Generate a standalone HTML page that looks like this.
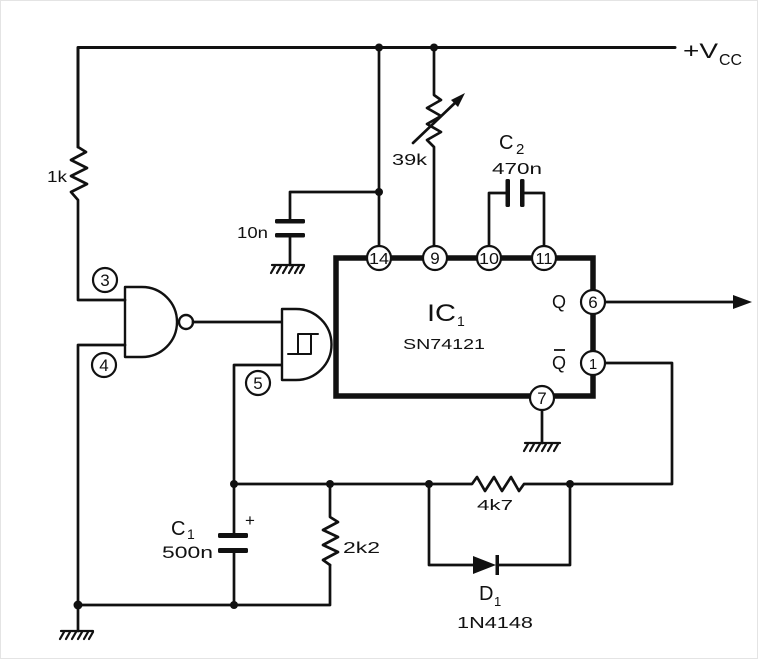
<!DOCTYPE html>
<html>
<head>
<meta charset="utf-8">
<style>
  html, body { margin: 0; padding: 0; background: #fff; }
  svg { display: block; }
  text { font-family: "Liberation Sans", "DejaVu Sans", sans-serif; fill: #111; }
</style>
</head>
<body>
<svg width="759" height="659" viewBox="0 0 759 659" xmlns="http://www.w3.org/2000/svg">
  <rect x="0" y="0" width="759" height="659" fill="#fff"/>
  <rect x="0.5" y="0.5" width="757" height="658" fill="none" stroke="#e4e4e4" stroke-width="1"/>

  <g fill="none" stroke="#111" stroke-width="2.7" stroke-linejoin="round" stroke-linecap="round">
    <!-- top Vcc rail -->
    <path d="M78,147 L78,47.5 L675,47.5" stroke-width="3"/>
    <!-- 1k resistor -->
    <path d="M78,147 L86,152 L71,160 L87,168 L71,176 L87,184 L71,192 L78,200 L78,300 L125,300"/>
    <!-- pin 14 vertical -->
    <path d="M379,47 L379,246"/>
    <!-- 10n capacitor -->
    <path d="M379,192 L290,192 L290,220"/>
    <path d="M290,236 L290,265"/>
    <!-- 39k variable resistor -->
    <path d="M434,47 L434,95 L441,100 L427,108 L441,116 L427,124 L441,132 L427,140 L434,147 L434,246"/>
    <path d="M413,143 L457,101"/>
    <!-- C2 -->
    <path d="M489,246 L489,193 L507,193"/>
    <path d="M523,193 L544,193 L544,246"/>
    <!-- Output -->
    <path d="M605,302 L736,302"/>
    <!-- Qbar feedback -->
    <path d="M605,363 L672,363 L672,484 L570,484"/>
    <!-- 4k7 resistor -->
    <path d="M570,484 L524,484 L519,491 L511,477 L502,491 L494,477 L485,491 L477,477 L472,484 L234,484"/>
    <!-- diode branch -->
    <path d="M429,484 L429,565 L473,565"/>
    <path d="M497,565 L570,565 L570,484"/>
    <!-- pin 7 ground -->
    <path d="M542,410 L542,443"/>
    <!-- NAND output to schmitt -->
    <path d="M193,322 L281,322"/>
    <!-- pin 4 / ground loop -->
    <path d="M125,345 L78,345 L78,605 L330,605 L330,565"/>
    <path d="M330,565 L323,560 L338,552 L323,545 L338,537 L323,530 L338,522 L330,517 L330,484"/>
    <path d="M78,605 L78,631"/>
    <!-- pin 5 / C1 -->
    <path d="M281,365 L234,365 L234,534"/>
    <path d="M234,551 L234,605"/>
    <!-- gates -->
    <path d="M125,287 L142,287 A35,35 0 0 1 142,357 L125,357 Z" stroke-width="2.4"/>
    <circle cx="186" cy="322" r="7" stroke-width="2.4"/>
    <path d="M282,309 L296,309 A35.5,35.5 0 0 1 296,380 L282,380 Z" stroke-width="2.4"/>
    <!-- hysteresis -->
    <path d="M288,354 L311,354 M298,354 L298,334 L318,334 M311,334 L311,354" stroke-width="2"/>
    <!-- IC box -->
    <path d="M336,396 L336,258 L593,258 L593,396 Z" stroke-width="5.5" stroke-linejoin="miter"/>
    <!-- grounds -->
    <path d="M272,265 L304,265 M275,266 L271,273 M281,266 L277,273 M287,266 L283,273 M293,266 L289,273 M299,266 L295,273 M304,266 L300,273" stroke-width="2.2"/>
    <path d="M525,443 L560,443 M528,444 L524,451 M534,444 L530,451 M540,444 L536,451 M546,444 L542,451 M552,444 L548,451 M558,444 L554,451" stroke-width="2.2"/>
    <path d="M61,631 L93,631 M64,632 L60,639 M70,632 L66,639 M76,632 L72,639 M82,632 L78,639 M88,632 L84,639 M93,632 L89,639" stroke-width="2.2"/>
  </g>

  <!-- capacitor plates -->
  <g fill="#111">
    <rect x="275" y="219" width="30" height="4.5" rx="1.5"/>
    <rect x="275" y="233" width="30" height="4.5" rx="1.5"/>
    <rect x="505.5" y="179" width="4.5" height="28" rx="1.5"/>
    <rect x="520" y="179" width="4.5" height="28" rx="1.5"/>
    <rect x="218" y="533" width="30" height="5" rx="1.5"/>
    <rect x="218" y="548" width="30" height="5" rx="1.5"/>
    <!-- diode -->
    <polygon points="473,556 473,574 496,565"/>
    <rect x="495.5" y="555" width="3.5" height="20"/>
    <!-- arrows -->
    <polygon points="752,302 733,295 733,309"/>
    <polygon points="465,93 451,100 458,107"/>
    <!-- junction dots -->
    <circle cx="379" cy="47.5" r="4"/>
    <circle cx="434" cy="47.5" r="4"/>
    <circle cx="379" cy="192" r="4"/>
    <circle cx="429" cy="484" r="4"/>
    <circle cx="570" cy="484" r="4"/>
    <circle cx="330" cy="484" r="4"/>
    <circle cx="234" cy="484" r="4"/>
    <circle cx="234" cy="605" r="4"/>
    <circle cx="78" cy="605" r="4.5"/>
  </g>

  <!-- pin circles -->
  <g fill="#fff" stroke="#111" stroke-width="2.2">
    <circle cx="379" cy="258" r="12"/>
    <circle cx="435" cy="258" r="12"/>
    <circle cx="489" cy="258" r="12"/>
    <circle cx="544" cy="258" r="12"/>
    <circle cx="593" cy="302" r="12"/>
    <circle cx="593" cy="363" r="12"/>
    <circle cx="542" cy="398" r="12"/>
    <circle cx="105" cy="280" r="12"/>
    <circle cx="104" cy="365" r="12"/>
    <circle cx="258" cy="383" r="12"/>
  </g>

  <g font-size="17" text-anchor="middle">
    <text x="379" y="264" font-size="16" textLength="20" lengthAdjust="spacingAndGlyphs">14</text>
    <text x="435" y="264">9</text>
    <text x="489" y="264" font-size="16" textLength="20" lengthAdjust="spacingAndGlyphs">10</text>
    <text x="544" y="264" font-size="16" textLength="17" lengthAdjust="spacingAndGlyphs">11</text>
    <text x="593" y="308">6</text>
    <text x="593" y="369" font-size="15">1</text>
    <text x="542" y="404">7</text>
    <text x="105" y="286">3</text>
    <text x="104" y="371">4</text>
    <text x="258" y="389">5</text>
  </g>

  <!-- labels -->
  <text x="47" y="182" font-size="16" textLength="20" lengthAdjust="spacingAndGlyphs">1k</text>
  <text x="237" y="238" font-size="16" textLength="31" lengthAdjust="spacingAndGlyphs">10n</text>
  <text x="392" y="165" font-size="16" textLength="35" lengthAdjust="spacingAndGlyphs">39k</text>
  <text x="499" y="149" font-size="20">C</text>
  <text x="516" y="154" font-size="15">2</text>
  <text x="492" y="174" font-size="16" textLength="50" lengthAdjust="spacingAndGlyphs">470n</text>
  <text x="683" y="58" font-size="21" textLength="35" lengthAdjust="spacingAndGlyphs">+V</text>
  <text x="719" y="65" font-size="16" textLength="23" lengthAdjust="spacingAndGlyphs">CC</text>

  <text x="427" y="321" font-family="Liberation Serif, serif" font-size="24" textLength="29" lengthAdjust="spacingAndGlyphs">IC</text>
  <text x="457" y="326" font-size="14">1</text>
  <text x="403" y="349" font-size="15" textLength="82" lengthAdjust="spacingAndGlyphs">SN74121</text>
  <text x="552" y="308" font-size="18">Q</text>
  <text x="552" y="369" font-size="18">Q</text>
  <line x1="554" y1="350" x2="565" y2="350" stroke="#111" stroke-width="1.8"/>

  <text x="477" y="510" font-size="15" textLength="36" lengthAdjust="spacingAndGlyphs">4k7</text>
  <text x="479" y="600" font-size="20">D</text>
  <text x="494" y="606" font-size="13">1</text>
  <text x="457" y="628" font-size="16" textLength="76" lengthAdjust="spacingAndGlyphs">1N4148</text>

  <text x="171" y="535" font-size="20">C</text>
  <text x="187" y="539" font-size="14">1</text>
  <text x="162" y="558" font-size="17" textLength="51" lengthAdjust="spacingAndGlyphs">500n</text>
  <text x="245" y="526" font-size="17">+</text>
  <text x="343" y="553" font-size="16" textLength="37" lengthAdjust="spacingAndGlyphs">2k2</text>
</svg>
</body>
</html>
